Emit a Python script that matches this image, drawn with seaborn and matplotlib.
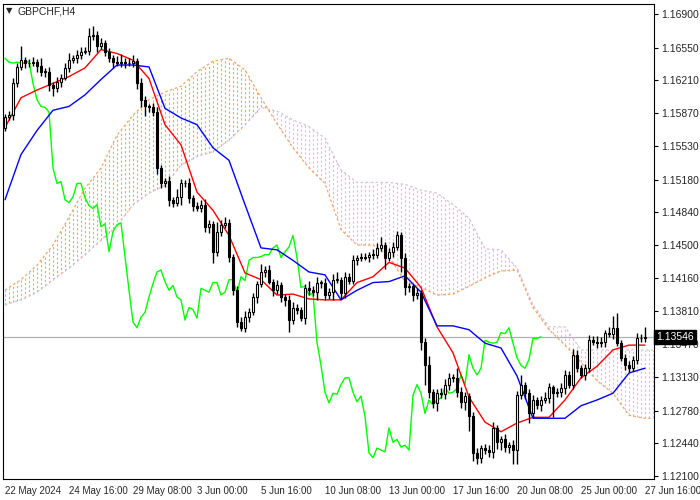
import numpy as np
import pandas as pd
import matplotlib
matplotlib.use("Agg")
import matplotlib.pyplot as plt
import seaborn as sns

symbol = "GBPCHF,H4"
closes = [1.1583,1.1585,1.1618,1.1635,1.1642,1.1639,1.1639,1.1640,1.1636,1.1630,
          1.1630,1.1616,1.1613,1.1619,1.1624,1.1634,1.1642,1.1644,1.1647,1.1651,
          1.1652,1.1667,1.1668,1.1657,1.1660,1.1651,1.1644,1.1640,1.1639,1.1640,
          1.1639,1.1639,1.1641,1.1618,1.1601,1.1594,1.1593,1.1588,1.1530,1.1514,
          1.1516,1.1497,1.1494,1.1500,1.1514,1.1514,1.1499,1.1491,1.1488,1.1492,
          1.1469,1.1472,1.1443,1.1464,1.1471,1.1473,1.1438,1.1403,1.1370,1.1364,
          1.1375,1.1380,1.1396,1.1410,1.1422,1.1424,1.1412,1.1403,1.1408,1.1396,
          1.1393,1.1372,1.1385,1.1383,1.1374,1.1405,1.1403,1.1401,1.1411,1.1411,
          1.1398,1.1401,1.1414,1.1414,1.1400,1.1417,1.1413,1.1434,1.1437,1.1437,
          1.1438,1.1440,1.1440,1.1447,1.1450,1.1437,1.1443,1.1448,1.1460,1.1437,
          1.1406,1.1407,1.1398,1.1400,1.1349,1.1325,1.1297,1.1286,1.1296,1.1295,
          1.1305,1.1312,1.1312,1.1297,1.1287,1.1293,1.1272,1.1234,1.1229,1.1239,
          1.1237,1.1235,1.1260,1.1245,1.1248,1.1240,1.1242,1.1237,1.1294,1.1305,
          1.1296,1.1275,1.1289,1.1284,1.1289,1.1291,1.1302,1.1296,1.1297,1.1301,
          1.1315,1.1305,1.1336,1.1322,1.1315,1.1322,1.1351,1.1349,1.1348,1.1349,
          1.1359,1.1358,1.1364,1.1348,1.1333,1.1325,1.1322,1.1331,1.1353,1.1353,
          1.13546]
first_open = 1.1572
upper_wick_pips = [3,4,5,4,15,3,4,5,3,8, 4,5,3,6,4,5,8,3,6,5,
                   4,8,10,4,5,3,4,3,6,8, 4,5,6,3,5,4,3,5,5,3,
                   4,6,3,8,5,4,6,3,4,5, 6,4,3,10,5,6,4,3,4,5,
                   6,5,4,3,8,4,5,3,6,4, 3,5,6,4,3,5,8,4,6,3,
                   5,4,6,8,3,5,4,6,3,5, 4,3,6,5,8,3,4,5,5,4,
                   5,4,3,5,3,4,10,3,4,5, 6,5,4,10,5,4,3,4,5,3,
                   4,5,6,3,4,6,3,5,4,10, 3,4,5,3,4,6,5,3,4,6,
                   5,4,6,5,3,4,5,4,6,5, 3,6,12,15,3,4,5,4,6,5,
                   10]
lower_wick_pips = [4,3,5,4,3,5,4,3,6,4, 5,6,8,4,5,3,4,3,5,4,
                   3,5,4,6,3,5,4,6,3,4, 5,3,4,6,8,10,5,4,6,5,
                   4,6,5,3,8,4,5,6,3,4, 5,6,12,4,5,3,6,5,5,3,
                   4,5,3,6,4,5,3,6,4,5, 6,12,4,5,3,6,5,4,8,6,
                   5,4,8,3,6,5,4,3,5,4, 3,6,5,4,3,12,4,5,3,15,
                   8,5,6,4,8,20,6,5,8,4, 5,6,4,5,6,8,15,8,6,5,
                   4,5,6,7,8,5,6,15,15,4, 6,10,5,4,6,3,5,25,4,5,
                   6,4,5,4,3,5,4,3,5,4, 5,4,6,3,4,5,4,3,5,4,
                   4]
tenkan = [1.1572,1.1603,1.1611,1.1618,1.1625,1.1634,1.1653,1.1649,1.1642,1.1623,
          1.1575,1.1554,1.1505,1.1486,1.1460,1.1421,1.1414,1.1398,1.1399,1.1394,
          1.1393,1.1393,1.1411,1.1417,1.1432,1.1426,1.1406,1.1365,1.1338,1.1292,
          1.1266,1.1256,1.1265,1.1271,1.1271,1.1289,1.1312,1.1324,1.1341,1.1346,1.1346]
kijun = [1.1497,1.1544,1.1569,1.1590,1.1594,1.1606,1.1622,1.1637,1.1637,1.1635,
         1.1592,1.1582,1.1575,1.1551,1.1538,1.1492,1.1447,1.1445,1.1434,1.1422,
         1.1419,1.1393,1.1403,1.1411,1.1412,1.1418,1.1401,1.1366,1.1366,1.1362,
         1.1348,1.1343,1.1314,1.1270,1.1270,1.1270,1.1283,1.1289,1.1296,1.1317,1.1322]
span_a = [1.1403,1.1414,1.1429,1.1450,1.1479,1.1509,1.1530,1.1564,1.1585,1.1601,
          1.1609,1.1615,1.1630,1.1641,1.1644,1.1632,1.1603,1.1576,1.1551,1.1530,
          1.1514,1.1466,1.1450,1.1450,1.1438,1.1412,1.1406,1.1398,1.1399,1.1407,
          1.1416,1.1423,1.1424,1.1385,1.1362,1.1346,1.1328,1.1309,1.1296,1.1273,1.1270,1.1270]
span_b = [1.1388,1.1393,1.1401,1.1414,1.1426,1.1440,1.1455,1.1470,1.1492,1.1504,
          1.1512,1.1533,1.1542,1.1547,1.1559,1.1575,1.1593,1.1589,1.1580,1.1573,
          1.1561,1.1528,1.1515,1.1515,1.1515,1.1513,1.1507,1.1504,1.1492,1.1478,
          1.1446,1.1445,1.1426,1.1388,1.1365,1.1365,1.1341,1.1341,1.1341,1.1341,1.1341,1.1341]
line_bars = list(range(0, 161, 4))
cloud_bars = line_bars + [162]
price_ticks = [1.16900,1.16550,1.16210,1.15870,1.15530,1.15180,1.14840,1.14500,
               1.14160,1.13810,1.13470,1.13130,1.12780,1.12440,1.12100]
date_labels = ["22 May 2024","24 May 16:00","29 May 08:00","3 Jun 00:00","5 Jun 16:00",
               "10 Jun 08:00","13 Jun 00:00","17 Jun 16:00","20 Jun 08:00","25 Jun 00:00",
               "27 Jun 16:00"]
date_bars = list(range(0, 161, 16))
current_price = 1.13546
chikou_shift = 26

sns.set_style("white")
plt.rcParams['font.family'] = ['Liberation Sans', 'DejaVu Sans']
fig = plt.figure(figsize=(7, 5), dpi=100)
ax = fig.add_axes([3/700, 21/500, 651/700, 475/500])

n = len(closes)
idx = np.arange(n)
c = np.array(closes)
o = np.concatenate([[first_open], c[:-1]])
hi = np.maximum(o, c) + np.array(upper_wick_pips[:n]) * 0.0001
lo = np.minimum(o, c) - np.array(lower_wick_pips[:n]) * 0.0001

# cloud hatch
cb = np.array(cloud_bars)
hb = np.arange(0, cb[-1] + 1)
a_i = np.interp(hb, cb, span_a)
b_i = np.interp(hb, cb, span_b)
for x, a, b in zip(hb, a_i, b_i):
    col = "#f4a460" if a >= b else "#d8bfd8"
    ax.plot([x, x], [min(a, b), max(a, b)], color=col, lw=0.8, ls=(0, (2, 2)), zorder=1)
sns.lineplot(x=cloud_bars, y=span_a, ax=ax, color="#f4a460", lw=0.9, ls=(0, (2, 2)), zorder=2)
sns.lineplot(x=cloud_bars, y=span_b, ax=ax, color="#d8bfd8", lw=0.9, ls=(0, (2, 2)), zorder=2)

ax.axhline(current_price, color="#b0b0b0", lw=0.9, zorder=1.5)

# chikou
ch = pd.DataFrame({"x": idx[:n - chikou_shift], "y": c[chikou_shift:]})
sns.lineplot(data=ch, x="x", y="y", ax=ax, color="#00ff00", lw=1, zorder=3)
sns.lineplot(x=line_bars, y=tenkan, ax=ax, color="#ff0000", lw=1, zorder=3)
sns.lineplot(x=line_bars, y=kijun, ax=ax, color="#0000ff", lw=1, zorder=3)

# candles
ax.vlines(idx, lo, hi, color="black", lw=1, zorder=4)
bear = c < o
ax.bar(idx[bear], (o - c)[bear], bottom=c[bear], width=0.6, color="black",
       edgecolor="black", lw=0.8, zorder=5)
ax.bar(idx[~bear], np.maximum((c - o)[~bear], 0.00004), bottom=o[~bear], width=0.6,
       color="white", edgecolor="black", lw=0.8, zorder=5)

ax.set_xlim(-0.5, 162.25)
ax.set_ylim(1.12069, 1.17004)
ax.yaxis.tick_right()
ax.set_yticks(price_ticks)
ax.set_yticklabels([f"{p:.5f}" for p in price_ticks], fontsize=7.5)
ax.set_xticks(date_bars)
ax.set_xticklabels(date_labels, fontsize=7, ha="left")
ax.tick_params(axis="both", length=3, direction="out", color="black", pad=2)
for s in ax.spines.values():
    s.set_color("black")
    s.set_linewidth(0.8)
ax.set_xlabel("")
ax.set_ylabel("")
ax.text(1.003, current_price, f"{current_price:.5f}", transform=ax.get_yaxis_transform(),
        fontsize=7.5, color="white", va="center", ha="left",
        bbox=dict(facecolor="black", edgecolor="black", pad=1.5), zorder=10, clip_on=False)
fig.text(18/700, 1 - 11/500, symbol, fontsize=7.5, va="center", ha="left")
fig.text(6/700, 1 - 11/500, "▼", fontsize=6, va="center", ha="left", family="DejaVu Sans")

fig.savefig("out.png", dpi=100)
